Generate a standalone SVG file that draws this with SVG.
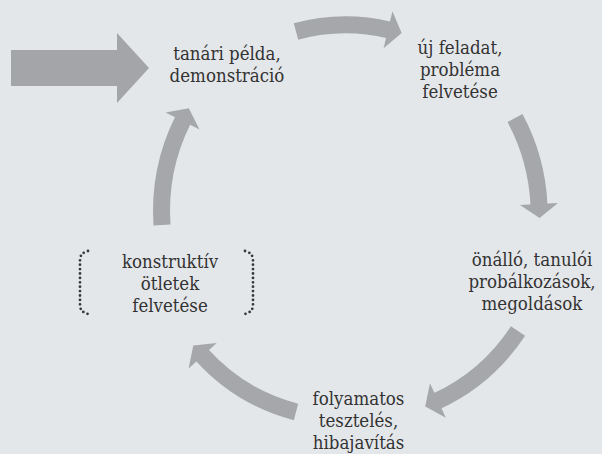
<svg xmlns="http://www.w3.org/2000/svg" width="602" height="454" viewBox="0 0 602 454">
<style>
.bg{fill:#e4e7ea}
.arc{fill:none;stroke:#a5a7aa;stroke-width:17;stroke-linecap:butt}
.blk{fill:#a3a5a8}
.t{font-family:"DejaVu Serif Condensed","DejaVu Serif",serif;font-stretch:condensed;font-size:18.5px;fill:#333;text-anchor:middle}
.dot{fill:none;stroke:#3a3a3a;stroke-width:2.8;stroke-linecap:round;stroke-dasharray:0 4.4}
</style>
<defs>
<marker id="head" markerUnits="userSpaceOnUse" orient="auto" viewBox="0 -19 14 38" refX="1" refY="0" markerWidth="14" markerHeight="38" overflow="visible">
<path d="M0,-19 L14,0 L0,19 Z" fill="#a5a7aa"/>
</marker>
</defs>
<rect class="bg" x="0" y="0" width="602" height="454"/>
<g id="connectors">
<path id="entry" class="blk" d="M11,50 L117,50 L117,33 L149,68 L117,103 L117,86 L11,86 Z"/>
<path class="arc" d="M296,31.5 A193 199 0 0 1 389,30" marker-end="url(#head)"/>
<path class="arc" d="M515,118 A193 199 0 0 1 539,205" marker-end="url(#head)"/>
<path class="arc" d="M518,331 A193 199 0 0 1 437,401" marker-end="url(#head)"/>
<path class="arc" d="M296,412 A193 199 0 0 1 202,355" marker-end="url(#head)"/>
<path class="arc" d="M162,225 A193 199 0 0 1 183,120" marker-end="url(#head)"/>
</g>
<g id="n1">
<text class="t" x="227" y="60">tanári példa,</text>
<text class="t" x="227" y="82">demonstráció</text>
</g>
<g id="n2">
<text class="t" x="460" y="54">új feladat,</text>
<text class="t" x="460" y="76">probléma</text>
<text class="t" x="460" y="98">felvetése</text>
</g>
<g id="n3">
<text class="t" x="532" y="266">önálló, tanulói</text>
<text class="t" x="532" y="288">probálkozások,</text>
<text class="t" x="532" y="310">megoldások</text>
</g>
<g id="n4">
<text class="t" x="358.5" y="405">folyamatos</text>
<text class="t" x="358.5" y="427">tesztelés,</text>
<text class="t" x="358.5" y="449">hibajavítás</text>
</g>
<g id="n5">
<path class="dot" d="M88,251 Q80,253 80,260 L80,305 Q80,312 88,314"/>
<path class="dot" d="M245,251 Q253,253 253,260 L253,305 Q253,312 245,314"/>
<text class="t" x="170" y="268">konstruktív</text>
<text class="t" x="170" y="290">ötletek</text>
<text class="t" x="170" y="312">felvetése</text>
</g>
</svg>
